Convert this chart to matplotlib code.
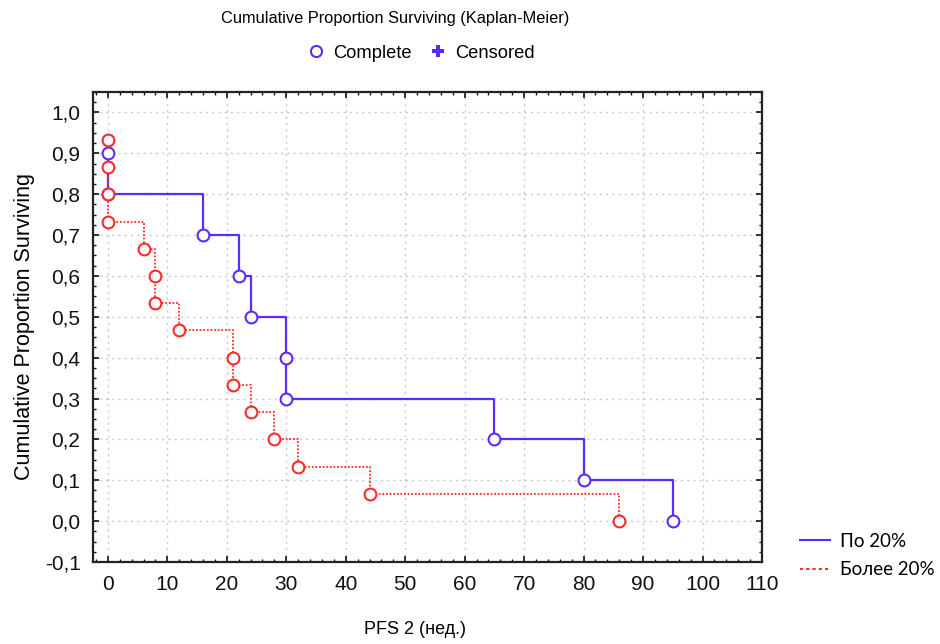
import numpy as np
import matplotlib.pyplot as plt
from matplotlib.lines import Line2D
from matplotlib.ticker import MultipleLocator, FuncFormatter

# Kaplan-Meier curves (time in weeks, survival proportion)
t_low = [0, 0, 16, 22, 24, 30, 30, 65, 80, 95]
s_low = [0.9, 0.8, 0.7, 0.6, 0.5, 0.4, 0.3, 0.2, 0.1, 0.0]

t_high = [0, 0, 0, 0, 6, 8, 8, 12, 21, 21, 24, 28, 32, 44, 86]
s_high = [0.933, 0.867, 0.800, 0.733, 0.667, 0.600, 0.533, 0.467,
          0.400, 0.333, 0.267, 0.200, 0.133, 0.067, 0.0]

labels = ['По 20%', 'Более 20%']

blue = '#5b2bff'
red = '#ff2a2a'

plt.rcParams['font.family'] = ['Liberation Sans', 'DejaVu Sans']

fig = plt.figure(figsize=(9.4, 6.44), dpi=100)
ax = fig.add_axes([93/940, 1 - 562/644, (762 - 93)/940, (562 - 92)/644])

ax.plot(t_low, s_low, drawstyle='steps-post', color=blue, lw=1.6, zorder=3)
ax.plot(t_low, s_low, 'o', mfc='white', mec=blue, ms=8.5, mew=1.5, zorder=4)
ax.plot(t_high, s_high, drawstyle='steps-post', color=red, lw=1.3,
        linestyle=(0, (1, 1)), zorder=3)
ax.plot(t_high, s_high, 'o', mfc='white', mec=red, ms=8.5, mew=1.5, zorder=5)

ax.set_xlim(-2.5, 110)
ax.set_ylim(-0.1, 1.05)
ax.xaxis.set_major_locator(MultipleLocator(10))
ax.xaxis.set_minor_locator(MultipleLocator(2))
ax.yaxis.set_major_locator(MultipleLocator(0.1))
ax.yaxis.set_minor_locator(MultipleLocator(0.025))
ax.yaxis.set_major_formatter(FuncFormatter(lambda v, p: f'{v:.1f}'.replace('.', ',').replace('-0,0', '0,0')))
ax.tick_params(which='both', direction='in', top=True, right=True, labelsize=15, colors='#111111')
ax.tick_params(which='major', length=4, width=1.2, pad=9)
ax.tick_params(which='minor', length=2.5, width=1)
ax.grid(True, which='major', color='#c8c8c8', linestyle=(0, (1.5, 3)), lw=1)
for sp in ax.spines.values():
    sp.set_linewidth(1.6)
    sp.set_color('#222222')

ax.set_ylabel('Cumulative Proportion Surviving', fontsize=15.5, labelpad=7)
fig.text(415/940, 1 - 630/644, 'PFS 2 (нед.)', ha='center', va='center', fontsize=13)

fig.text(395/940, 1 - 18/644, 'Cumulative Proportion Surviving (Kaplan-Meier)',
         ha='center', va='center', fontsize=11.8)
top_handles = [Line2D([], [], marker='o', ls='none', mfc='white', mec=blue, ms=8, mew=1.5),
               Line2D([], [], marker='P', ls='none', color=blue, ms=8, mew=0)]
fig.legend(top_handles, ['Complete', 'Censored'], loc='center', ncol=2,
           bbox_to_anchor=(420/940, 1 - 53/644), frameon=False, fontsize=13.2,
           handletextpad=0.35, columnspacing=0.8, handlelength=1.2)

side_handles = [Line2D([], [], color=blue, lw=1.5),
                Line2D([], [], color=red, lw=1.5, linestyle=(0, (1.5, 1.5)))]
fig.legend(side_handles, labels, loc='upper left', bbox_to_anchor=(800/940, 1 - 533/644),
           frameon=False, handlelength=1.6, handletextpad=0.53,
           labelspacing=0.6, borderpad=0, borderaxespad=0,
           prop={'family': ['Lato', 'DejaVu Sans'], 'size': 13.5})

fig.savefig('out.png', dpi=100)
